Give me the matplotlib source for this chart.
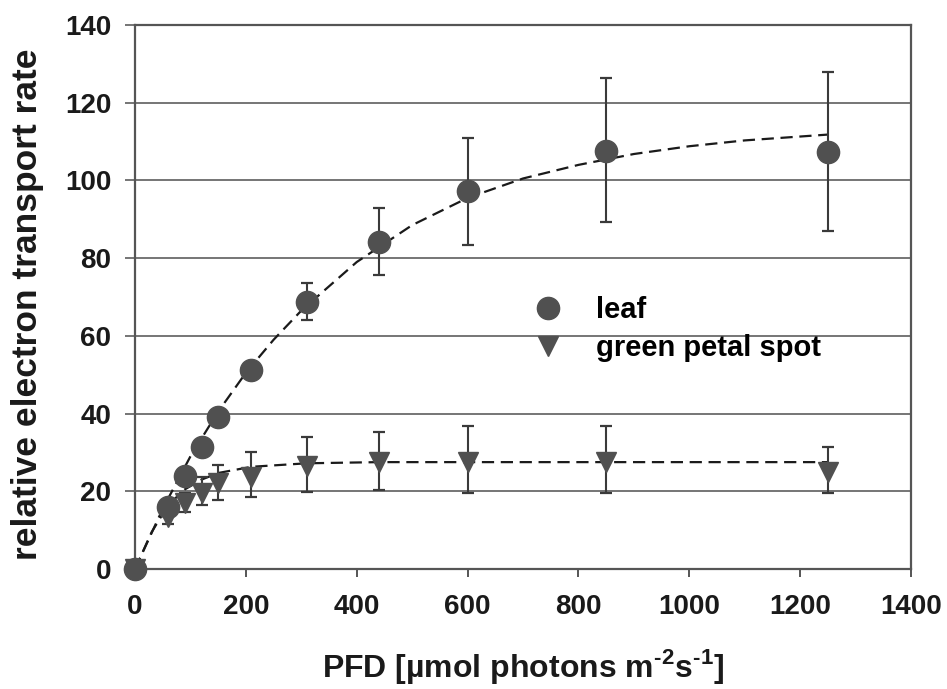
import matplotlib
matplotlib.use('Agg')
import matplotlib.pyplot as plt

plt.rcParams['font.family'] = ['Liberation Sans', 'DejaVu Sans']
plt.rcParams['font.weight'] = 'bold'
plt.rcParams['mathtext.fontset'] = 'custom'
plt.rcParams['mathtext.rm'] = 'Liberation Sans:bold'
plt.rcParams['mathtext.bf'] = 'Liberation Sans:bold'

# measured points (PFD, relative ETR)
pfd = [0, 60, 90, 120, 150, 210, 310, 440, 600, 850, 1250]
leaf = [0, 16, 24, 31.5, 39, 51.2, 68.6, 84.2, 97.2, 107.5, 107.2]
leaf_lo = [0, 0, 0, 0, 0, 0, 4.5, 8.5, 13.8, 18.3, 20.2]
leaf_hi = [0, 0, 0, 0, 0, 0, 5.0, 8.6, 13.6, 18.8, 20.6]
spot = [0, 13.5, 17.0, 19.6, 22.1, 23.8, 26.5, 27.6, 27.6, 27.6, 25.0]
spot_lo = [0, 2.0, 2.3, 3.1, 4.3, 5.3, 6.6, 7.3, 8.0, 8.0, 5.4]
spot_hi = [0, 2.0, 2.5, 4.1, 4.7, 6.4, 7.5, 7.7, 9.2, 9.2, 6.5]

# fitted curves
leaf_fit_x = [0, 50, 100, 150, 200, 250, 300, 400, 500, 600, 700, 800, 900, 1000, 1100, 1250]
leaf_fit_y = [0, 15.5, 29, 40.5, 50.5, 59, 66.5, 79, 88.5, 95.5, 100.5, 104, 106.8, 108.8, 110.3, 111.8]
spot_fit_x = [0, 30, 60, 90, 120, 150, 210, 310, 440, 600, 850, 1250]
spot_fit_y = [0, 9.5, 16.5, 20.5, 23, 24.7, 26.3, 27.2, 27.5, 27.5, 27.5, 27.5]

xticks = [0, 200, 400, 600, 800, 1000, 1200, 1400]
yticks = [0, 20, 40, 60, 80, 100, 120, 140]

fig = plt.figure(figsize=(9.47, 6.89), dpi=100)
ax = fig.add_axes([0.1426, 0.1742, 0.8194, 0.7895])

gray = '#505050'
ax.plot(leaf_fit_x, leaf_fit_y, color='#1a1a1a', lw=1.6, ls=(0, (5.5, 3)), zorder=3)
ax.plot(spot_fit_x, spot_fit_y, color='#1a1a1a', lw=1.6, ls=(0, (5.5, 3)), zorder=3)

ax.errorbar(pfd, leaf, yerr=[leaf_lo, leaf_hi], fmt='none', ecolor='#3a3a3a',
            elinewidth=1.5, capsize=4, capthick=1.6, zorder=4)
ax.errorbar(pfd, spot, yerr=[spot_lo, spot_hi], fmt='none', ecolor='#3a3a3a',
            elinewidth=1.5, capsize=4, capthick=1.6, zorder=4)

ax.plot(pfd, leaf, 'o', color=gray, ms=16, mec=gray, label='leaf', zorder=5, clip_on=False)
ax.plot(pfd, spot, 'v', color=gray, ms=14, mec=gray, label='green petal spot',
        zorder=5, clip_on=False)

ax.set_xlim(0, 1400)
ax.set_ylim(0, 140)
ax.set_xticks(xticks)
ax.set_yticks(yticks)
ax.yaxis.grid(True, color='#6a6a6a', lw=1.3)
ax.set_axisbelow(True)

for s in ax.spines.values():
    s.set_color('#555555')
    s.set_linewidth(1.6)

ax.tick_params(axis='x', direction='out', length=6, width=1.4, color='#555555',
               labelsize=20, pad=12, labelcolor='#1a1a1a')
ax.tick_params(axis='y', direction='out', length=7, width=1.3, color='#6a6a6a',
               labelsize=20, pad=10, labelcolor='#1a1a1a')

ax.set_xlabel(r'PFD [µmol photons m$^{\text{-2}}$s$^{\text{-1}}$]', fontsize=23,
              fontweight='bold', color='#1a1a1a', va='baseline')
ax.xaxis.set_label_coords(0.5, -0.1985)
ax.set_ylabel('relative electron transport rate', fontsize=25.5,
              fontweight='bold', color='#1a1a1a', va='center')
ax.yaxis.set_label_coords(-0.139, 0.487)

ax.legend(loc='upper left', bbox_to_anchor=(0.513, 0.502), frameon=False,
          fontsize=21, handlelength=1.0, handletextpad=1.15, labelspacing=0.35,
          borderpad=0, borderaxespad=0, numpoints=1)

fig.savefig('out.png', dpi=100)
